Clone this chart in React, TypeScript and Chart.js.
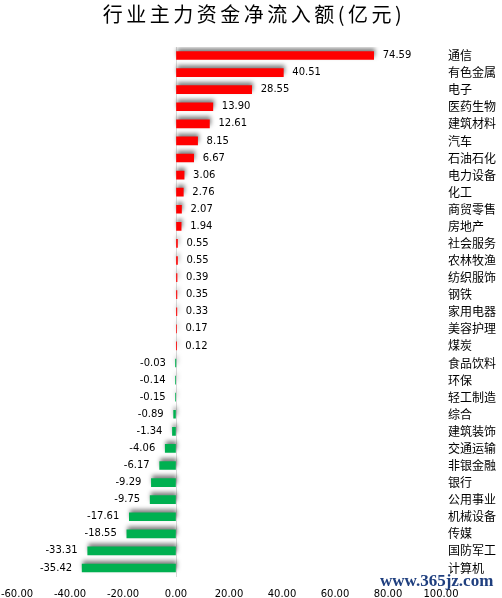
import React, { useEffect, useRef } from 'react';
import { Chart, registerables } from 'chart.js';

Chart.register(...registerables);

const titleText = '行业主力资金净流入额(亿元)';
const watermarkText = 'www.365jz.com';

const categories = [
  '通信', '有色金属', '电子', '医药生物', '建筑材料', '汽车', '石油石化', '电力设备',
  '化工', '商贸零售', '房地产', '社会服务', '农林牧渔', '纺织服饰', '钢铁', '家用电器',
  '美容护理', '煤炭', '食品饮料', '环保', '轻工制造', '综合', '建筑装饰', '交通运输',
  '非银金融', '银行', '公用事业', '机械设备', '传媒', '国防军工', '计算机',
];

const values = [
  74.59, 40.51, 28.55, 13.90, 12.61, 8.15, 6.67, 3.06,
  2.76, 2.07, 1.94, 0.55, 0.55, 0.39, 0.35, 0.33,
  0.17, 0.12, -0.03, -0.14, -0.15, -0.89, -1.34, -4.06,
  -6.17, -9.29, -9.75, -17.61, -18.55, -33.31, -35.42,
];

const xMin = -60;
const xMax = 100;
const xStep = 20;

const POS_COLOR = '#FF0000';
const NEG_COLOR = '#00B050';
const NUM_FONT = '"DejaVu Sans"';
const CJK_FONT = '"Noto Sans CJK SC"';

export default function App() {
  const ref = useRef<HTMLCanvasElement>(null);

  useEffect(() => {
    if (!ref.current) return;

    const shadowPlugin = {
      id: 'barShadow',
      beforeDatasetsDraw(chart: any) {
        const c = chart.ctx;
        c.save();
        c.shadowColor = 'rgba(0,0,0,0.5)';
        c.shadowBlur = 4;
        c.shadowOffsetX = 1;
        c.shadowOffsetY = -3;
      },
      afterDatasetsDraw(chart: any) {
        chart.ctx.restore();
      },
    };

    const labelPlugin = {
      id: 'valueLabels',
      afterDraw(chart: any) {
        const ctx = chart.ctx;
        const meta = chart.getDatasetMeta(0);
        ctx.save();
        ctx.font = `10px ${NUM_FONT}`;
        ctx.fillStyle = '#000';
        ctx.textBaseline = 'middle';
        meta.data.forEach((bar: any, i: number) => {
          const v = values[i];
          const { x, y } = bar.getProps(['x', 'y'], true);
          if (v >= 0) {
            ctx.textAlign = 'left';
            ctx.fillText(v.toFixed(2), x + 9, y);
          } else {
            ctx.textAlign = 'right';
            ctx.fillText(v.toFixed(2), x - 10, y);
          }
        });
        ctx.restore();
      },
    };

    const chart = new Chart(ref.current, {
      type: 'bar',
      data: {
        labels: categories,
        datasets: [
          {
            data: values,
            backgroundColor: values.map((v) => (v >= 0 ? POS_COLOR : NEG_COLOR)),
            borderWidth: 0,
            barThickness: 8,
          },
        ],
      },
      options: {
        indexAxis: 'y',
        responsive: false,
        animation: false,
        layout: { padding: { left: 17, top: 47, right: 0, bottom: 0 } },
        plugins: {
          legend: { display: false },
          tooltip: { enabled: false },
          title: { display: false },
        },
        scales: {
          x: {
            min: xMin,
            max: xMax,
            ticks: {
              stepSize: xStep,
              autoSkip: false,
              maxRotation: 0,
              padding: 12,
              color: '#000',
              font: { family: NUM_FONT, size: 10 },
              callback: (v: any) => Number(v).toFixed(2),
            },
            grid: {
              drawTicks: false,
              color: (c: any) => (c.tick && c.tick.value === 0 ? '#d9d9d9' : 'rgba(0,0,0,0)'),
            },
            border: { display: false },
            afterFit(s: any) {
              s.paddingLeft = 0;
              s.paddingRight = 0;
              s.height = 21.5;
            },
          },
          y: {
            position: 'right',
            grid: { display: false, drawTicks: false },
            border: { display: false },
            ticks: {
              autoSkip: false,
              padding: 7,
              color: '#000',
              font: { family: CJK_FONT, size: 12 },
            },
            afterFit(s: any) {
              s.width = 61;
              s.paddingTop = 0;
              s.paddingBottom = 0;
            },
          },
        },
      } as any,
      plugins: [shadowPlugin, labelPlugin],
    });

    return () => chart.destroy();
  }, []);

  return (
    <div
      style={{
        position: 'fixed',
        left: 0,
        top: 0,
        width: 502,
        height: 598,
        background: '#fff',
        overflow: 'hidden',
      }}
    >
      <canvas ref={ref} width={502} height={598} style={{ position: 'absolute', left: 0, top: 0 }} />
      <div
        style={{
          position: 'absolute',
          left: 0,
          top: 4,
          width: 502,
          paddingLeft: 6,
          boxSizing: 'border-box',
          textAlign: 'center',
          fontFamily: CJK_FONT,
          fontSize: 20,
          lineHeight: '20px',
          letterSpacing: 3.5,
          color: '#000',
          whiteSpace: 'nowrap',
        }}
      >
        {titleText}
      </div>
      <div
        style={{
          position: 'absolute',
          left: 380,
          top: 572,
          fontFamily: '"Liberation Serif"',
          fontWeight: 'bold',
          fontSize: 17,
          lineHeight: '17px',
          color: '#1f3f7f',
          whiteSpace: 'nowrap',
        }}
      >
        {watermarkText}
      </div>
    </div>
  );
}
